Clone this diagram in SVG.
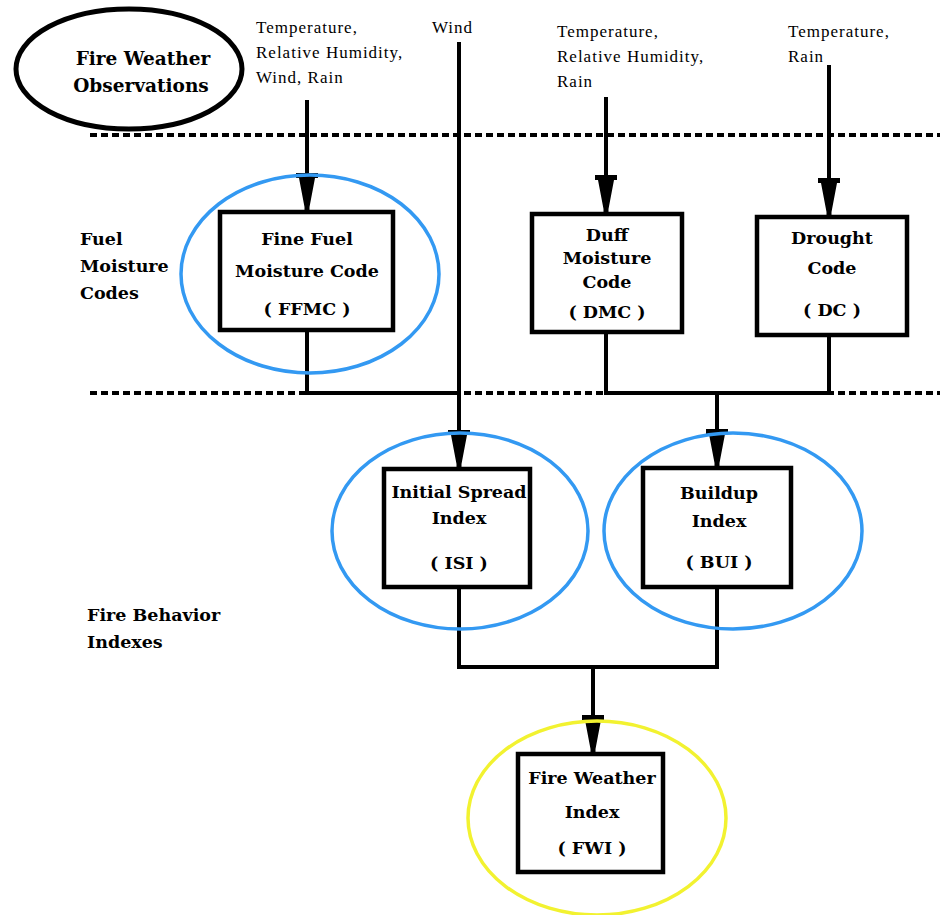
<svg xmlns="http://www.w3.org/2000/svg" xmlns:xlink="http://www.w3.org/1999/xlink" width="940" height="915" viewBox="0 0 940 915">
  <style>
    .bg { fill: #ffffff; }
    .box { fill: #ffffff; stroke: #000000; stroke-width: 4.5; }
    .ring { fill: none; stroke: #3399f2; stroke-width: 3.5; }
    .ring-y { fill: none; stroke: #f2f230; stroke-width: 3.5; }
    .obs { fill: none; stroke: #000000; stroke-width: 5; }
    .wire { fill: none; stroke: #000000; stroke-width: 4; stroke-linejoin: miter; }
    .divider { fill: none; stroke: #000000; stroke-width: 4; stroke-dasharray: 7 4; }
    .label { font-family: "DejaVu Serif", "Liberation Serif", serif; font-weight: bold; font-size: 17.5px; fill: #000000; text-anchor: middle; }
    .section { font-family: "DejaVu Serif", "Liberation Serif", serif; font-weight: bold; font-size: 17.5px; fill: #000000; }
    .input { font-family: "Liberation Serif", "Times New Roman", serif; font-size: 17px; letter-spacing: 1px; fill: #000000; }
    .title { font-family: "DejaVu Serif", "Liberation Serif", serif; font-weight: bold; font-size: 18.5px; fill: #000000; text-anchor: middle; }
  </style>
  <defs>
    <!-- arrowhead with a crossbar, tip at (0,0) = top edge of target box -->
    <path id="arrowhead" d="M -11 -39 H 11 V -34 H 8 L 2.5 -5 V 0 H -2.5 V -5 L -8 -34 H -11 Z" fill="#000000"/>
  </defs>

  <rect class="bg" x="0" y="0" width="940" height="915"/>

  <!-- layer dividers -->
  <g id="dividers">
    <line class="divider" x1="90" y1="135" x2="940" y2="135"/>
    <line class="divider" x1="90" y1="393" x2="940" y2="393"/>
  </g>

  <!-- section titles -->
  <g id="observations">
    <ellipse class="obs" cx="129" cy="69" rx="113" ry="60"/>
    <text class="title" x="143" y="65">Fire Weather</text>
    <text class="title" x="141" y="92">Observations</text>
  </g>
  <g id="section-fuel">
    <text class="section" x="80" y="245">Fuel</text>
    <text class="section" x="80" y="272">Moisture</text>
    <text class="section" x="80" y="299">Codes</text>
  </g>
  <g id="section-behavior">
    <text class="section" x="87" y="621">Fire Behavior</text>
    <text class="section" x="87" y="648">Indexes</text>
  </g>

  <!-- weather inputs -->
  <g id="inputs">
    <text class="input" x="256" y="33">Temperature,</text>
    <text class="input" x="256" y="58">Relative Humidity,</text>
    <text class="input" x="256" y="83">Wind, Rain</text>
    <text class="input" x="432" y="33">Wind</text>
    <text class="input" x="557" y="37">Temperature,</text>
    <text class="input" x="557" y="62">Relative Humidity,</text>
    <text class="input" x="557" y="87">Rain</text>
    <text class="input" x="788" y="37">Temperature,</text>
    <text class="input" x="788" y="62">Rain</text>
  </g>

  <!-- connectors -->
  <g id="connectors">
    <line class="wire" x1="307" y1="100" x2="307" y2="180"/>
    <line class="wire" x1="459" y1="42" x2="459" y2="437"/>
    <line class="wire" x1="606" y1="97" x2="606" y2="180"/>
    <line class="wire" x1="829" y1="65" x2="829" y2="180"/>
    <polyline class="wire" points="307,330 307,393 459,393"/>
    <polyline class="wire" points="606,332 606,393 829,393 829,335"/>
    <line class="wire" x1="717" y1="393" x2="717" y2="436"/>
    <polyline class="wire" points="459,587 459,667 717,667 717,587"/>
    <line class="wire" x1="593" y1="667" x2="593" y2="722"/>
    <use xlink:href="#arrowhead" transform="translate(307,212)"/>
    <use xlink:href="#arrowhead" transform="translate(606,214)"/>
    <use xlink:href="#arrowhead" transform="translate(829,217)"/>
    <use xlink:href="#arrowhead" transform="translate(459,469)"/>
    <use xlink:href="#arrowhead" transform="translate(717,468)"/>
    <use xlink:href="#arrowhead" transform="translate(593,754)"/>
  </g>

  <!-- fuel moisture codes -->
  <g id="ffmc">
    <rect class="box" x="220" y="212" width="173" height="118"/>
    <ellipse class="ring" cx="310" cy="274" rx="129" ry="99"/>
    <text class="label" x="307" y="245">Fine Fuel</text>
    <text class="label" x="307" y="277">Moisture Code</text>
    <text class="label" x="307" y="315">( FFMC )</text>
  </g>
  <g id="dmc">
    <rect class="box" x="532" y="214" width="150" height="118"/>
    <text class="label" x="607" y="241">Duff</text>
    <text class="label" x="607" y="264">Moisture</text>
    <text class="label" x="607" y="288">Code</text>
    <text class="label" x="607" y="318">( DMC )</text>
  </g>
  <g id="dc">
    <rect class="box" x="757" y="217" width="150" height="118"/>
    <text class="label" x="832" y="244">Drought</text>
    <text class="label" x="832" y="274">Code</text>
    <text class="label" x="832" y="316">( DC )</text>
  </g>

  <!-- fire behaviour indexes -->
  <g id="isi">
    <rect class="box" x="384" y="469" width="146" height="118"/>
    <ellipse class="ring" cx="460" cy="531" rx="128" ry="98"/>
    <text class="label" x="459" y="498">Initial Spread</text>
    <text class="label" x="459" y="524">Index</text>
    <text class="label" x="459" y="569">( ISI )</text>
  </g>
  <g id="bui">
    <rect class="box" x="643" y="468" width="148" height="119"/>
    <ellipse class="ring" cx="733" cy="531" rx="129" ry="98"/>
    <text class="label" x="719" y="499">Buildup</text>
    <text class="label" x="719" y="527">Index</text>
    <text class="label" x="719" y="568">( BUI )</text>
  </g>
  <g id="fwi">
    <rect class="box" x="518" y="754" width="145" height="118"/>
    <ellipse class="ring-y" cx="597" cy="818" rx="129" ry="97"/>
    <text class="label" x="592" y="784">Fire Weather</text>
    <text class="label" x="592" y="818">Index</text>
    <text class="label" x="592" y="854">( FWI )</text>
  </g>
</svg>
